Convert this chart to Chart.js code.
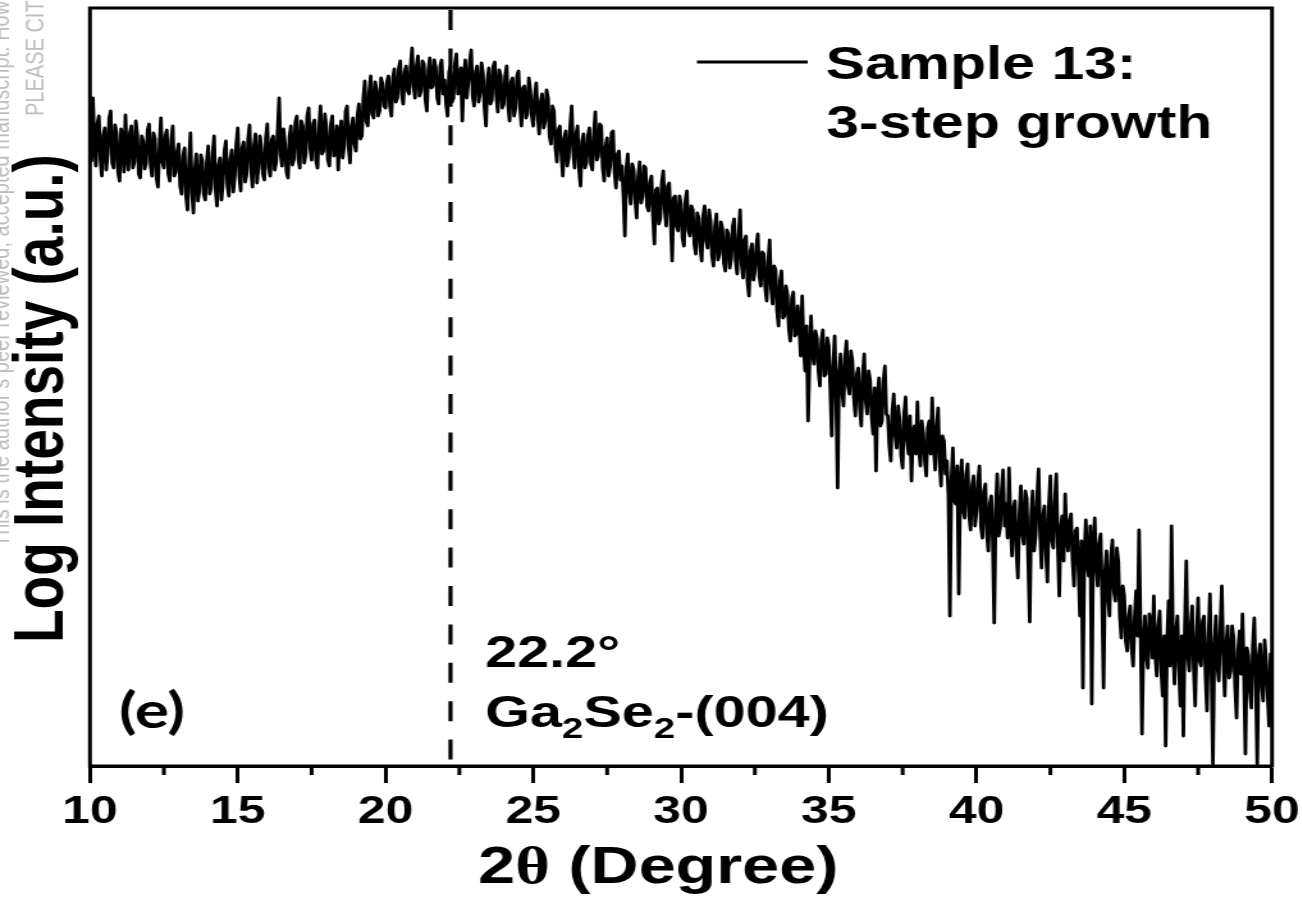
<!DOCTYPE html>
<html>
<head>
<meta charset="utf-8">
<script src="https://cdn.jsdelivr.net/npm/chart.js@4.4.0/dist/chart.umd.min.js"></script>
<style>
  html, body { margin: 0; padding: 0; background: #fff; overflow: hidden; }
  /* the source figure is stretched sideways, so draw narrow and stretch */
  #xrd { display: block; transform: scaleX(1.28); transform-origin: 0 0; }
</style>
</head>
<body>
<canvas id="xrd" width="1017" height="899"></canvas>
<script>
// 2-theta grid of the scan (degrees)
const startAngle = 10;
const stepAngle = 0.05;

// log intensity (arbitrary units), one row per degree
const intensity10to20 = [
  640, 605, 668, 622, 600, 642, 650, 607, 590, 631, 638, 596, 612, 648, 655, 603, 598, 641, 632, 594,
  585, 637, 628, 594, 651, 610, 596, 633, 640, 598, 604, 645, 632, 592, 588, 630, 625, 597, 603, 636,
  642, 601, 590, 633, 627, 588, 579, 620, 648, 604, 598, 630, 636, 592, 585, 626, 640, 590, 594, 615,
  622, 580, 572, 610, 618, 570, 556, 603, 633, 574, 553, 598, 612, 565, 575, 611, 605, 572, 566, 604,
  620, 572, 578, 612, 630, 575, 560, 601, 608, 566, 584, 615, 625, 580, 570, 607, 616, 574, 590, 622,
  638, 590, 575, 618, 624, 584, 592, 627, 641, 596, 579, 620, 632, 583, 598, 630, 618, 592, 586, 628,
  642, 598, 590, 626, 630, 596, 604, 635, 668, 612, 600, 637, 622, 594, 588, 629, 640, 601, 607, 644,
  650, 607, 598, 645, 640, 603, 612, 650, 658, 618, 606, 642, 646, 605, 598, 638, 660, 612, 615, 652,
  638, 606, 600, 642, 650, 610, 612, 640, 596, 630, 645, 608, 620, 655, 660, 618, 603, 640, 648, 622,
  615, 650, 662, 627, 630, 668, 685, 645, 640, 675, 690, 652, 648, 684, 676, 650, 655, 688, 682, 660
];
const intensity20to30 = [
  658, 684, 690, 660, 650, 688, 697, 664, 668, 698, 705, 672, 662, 694, 700, 675, 672, 700, 718, 680,
  668, 700, 710, 670, 675, 705, 702, 666, 655, 696, 708, 678, 680, 706, 698, 668, 662, 700, 706, 672,
  686, 662, 650, 694, 700, 664, 668, 702, 712, 672, 675, 698, 645, 690, 706, 668, 683, 704, 716, 670,
  660, 694, 700, 664, 672, 703, 692, 658, 640, 686, 698, 662, 666, 700, 704, 670, 654, 696, 690, 658,
  662, 690, 700, 660, 645, 684, 688, 650, 658, 690, 695, 660, 640, 678, 680, 648, 652, 688, 676, 650,
  640, 670, 683, 650, 632, 664, 672, 638, 645, 676, 668, 630, 622, 660, 655, 618, 604, 636, 640, 612,
  590, 628, 635, 600, 608, 640, 660, 615, 598, 632, 640, 596, 580, 625, 632, 598, 603, 630, 638, 602,
  596, 632, 654, 606, 610, 642, 640, 598, 585, 620, 628, 590, 600, 633, 635, 594, 578, 612, 615, 586,
  600, 572, 530, 598, 612, 574, 562, 602, 596, 566, 548, 590, 604, 563, 570, 600, 598, 560, 555, 584,
  590, 550, 522, 576, 578, 542, 548, 584, 595, 556, 540, 580, 583, 547, 505, 568, 570, 540, 535, 570
];
const intensity30to40 = [
  562, 528, 520, 566, 575, 535, 530, 560, 556, 522, 512, 553, 548, 519, 505, 550, 560, 525, 518, 556,
  545, 510, 500, 540, 552, 506, 512, 544, 538, 503, 495, 536, 532, 498, 508, 540, 547, 505, 492, 530,
  556, 502, 488, 526, 530, 484, 470, 515, 522, 486, 495, 520, 532, 490, 480, 514, 512, 478, 465, 505,
  526, 478, 462, 500, 496, 455, 440, 485, 495, 448, 450, 480, 472, 437, 425, 468, 474, 430, 432, 460,
  440, 410, 470, 420, 395, 440, 345, 405, 450, 412, 402, 435, 428, 395, 380, 425, 436, 390, 392, 428,
  420, 380, 330, 400, 430, 370, 278, 395, 412, 375, 360, 408, 425, 380, 372, 415, 405, 368, 350, 392,
  398, 358, 340, 392, 412, 365, 352, 395, 385, 350, 332, 378, 295, 370, 388, 340, 345, 385, 400, 352,
  350, 320, 305, 355, 372, 330, 318, 360, 345, 310, 298, 352, 369, 325, 312, 350, 285, 335, 340, 312,
  364, 318, 300, 345, 332, 305, 290, 338, 345, 312, 368, 320, 296, 340, 358, 305, 280, 330, 325, 292,
  305, 270, 150, 285, 318, 265, 262, 300, 172, 280, 306, 255, 248, 292, 302, 250, 236, 280, 290, 240
];
const intensity40to50 = [
  255, 285, 300, 240, 228, 275, 282, 232, 215, 262, 270, 225, 143, 255, 292, 230, 238, 276, 296, 240,
  262, 228, 298, 245, 210, 258, 265, 215, 188, 250, 280, 232, 222, 275, 268, 205, 144, 250, 275, 215,
  230, 268, 297, 235, 198, 250, 260, 212, 184, 262, 290, 225, 218, 265, 292, 222, 170, 238, 250, 205,
  272, 230, 215, 245, 252, 205, 180, 235, 238, 195, 150, 225, 78, 210, 246, 200, 190, 240, 62, 220,
  248, 200, 180, 222, 232, 170, 78, 195, 215, 168, 150, 210, 226, 175, 165, 218, 205, 150, 128, 180,
  170, 125, 115, 150, 160, 118, 100, 148, 175, 130, 236, 140, 32, 125, 150, 110, 98, 152, 140, 108,
  170, 110, 90, 140, 155, 95, 70, 130, 20, 125, 165, 100, 240, 120, 82, 135, 150, 98, 60, 130,
  30, 140, 205, 110, 95, 140, 160, 98, 60, 132, 168, 105, 100, 145, 150, 90, 55, 128, 172, 95,
  2, 120, 150, 100, 85, 138, 180, 112, 70, 122, 140, 88, 95, 140, 128, 80, 48, 115, 135, 92,
  152, 95, 12, 118, 110, 75, 58, 120, 148, 90, 2, 110, 122, 82, 65, 126, 105, 72, 40, 112,
  80
];

const minorTicks = [12.5, 17.5, 22.5, 27.5, 32.5, 37.5, 42.5, 47.5];
const peakAngle = 22.2;
const peakLabel = '22.2\u00B0';
const sampleName = ['Sample 13:', '3-step growth'];

const FONT = "'Liberation Sans', Arial, sans-serif";

const intensity = [].concat(intensity10to20, intensity20to30, intensity30to40, intensity40to50);
const points = intensity.map((v, i) => ({ x: +(startAngle + i * stepAngle).toFixed(2), y: v }));

// draw a row of text pieces with different fonts / offsets, left aligned
function drawRuns(ctx, runs, x, y) {
  ctx.textAlign = 'left';
  ctx.textBaseline = 'alphabetic';
  runs.forEach(r => {
    ctx.font = r.font;
    ctx.fillText(r.text, x, y + (r.dy || 0));
    x += ctx.measureText(r.text).width;
  });
}

const decor = {
  id: 'decor',
  afterDraw(chart) {
    const { ctx, chartArea: a, scales: { x } } = chart;
    ctx.save();
    ctx.strokeStyle = '#000';
    ctx.fillStyle = '#000';

    // frame
    ctx.lineWidth = 3;
    ctx.strokeRect(a.left, a.top, a.right - a.left, a.bottom - a.top);

    // minor ticks
    ctx.beginPath();
    minorTicks.forEach(v => {
      const px = x.getPixelForValue(v);
      ctx.moveTo(px, a.bottom);
      ctx.lineTo(px, a.bottom + 9);
    });
    ctx.stroke();

    // peak position
    const px = x.getPixelForValue(peakAngle);
    ctx.lineWidth = 3.2;
    ctx.setLineDash([20, 18.4]);
    ctx.beginPath();
    ctx.moveTo(px, a.top + 2);
    ctx.lineTo(px, a.bottom);
    ctx.stroke();
    ctx.setLineDash([]);

    // legend
    ctx.lineWidth = 3;
    ctx.beginPath();
    ctx.moveTo(544.5, 62);
    ctx.lineTo(631, 62);
    ctx.stroke();
    drawRuns(ctx, [{ text: sampleName[0], font: `bold 46px ${FONT}` }], 645, 79);
    drawRuns(ctx, [{ text: sampleName[1], font: `bold 46px ${FONT}` }], 645.5, 138);

    // peak annotation
    drawRuns(ctx, [{ text: peakLabel, font: `bold 45px ${FONT}` }], 379, 667);
    const big = `bold 45px ${FONT}`, sub = `bold 30px ${FONT}`;
    drawRuns(ctx, [
      { text: 'Ga', font: big }, { text: '2', font: sub, dy: 11 },
      { text: 'Se', font: big }, { text: '2', font: sub, dy: 11 },
      { text: '-(004)', font: big }
    ], 379, 727);

    // panel letter
    drawRuns(ctx, [{ text: '(e)', font: "bold 50px Lato, 'Open Sans', sans-serif" }], 93, 728);

    // axis titles
    drawRuns(ctx, [
      { text: '2', font: `bold 52px ${FONT}` },
      { text: '\u03B8', font: "bold 52px 'Liberation Serif', serif" },
      { text: ' (Degree)', font: `bold 52px ${FONT}` }
    ], 373.5, 883);

    ctx.save();
    ctx.translate(49, 643);
    ctx.rotate(-Math.PI / 2);
    drawRuns(ctx, [{ text: 'Log Intensity (a.u.)', font: `bold 55px ${FONT}` }], 0, 0);
    ctx.restore();

    // journal watermark at the left edge
    ctx.fillStyle = '#bdbdbd';
    ctx.save();
    ctx.translate(7, 547);
    ctx.rotate(-Math.PI / 2);
    drawRuns(ctx, [{ text: "This is the author\u2019s peer reviewed, accepted manuscript. However, the online version of record will be different", font: `20px ${FONT}` }], 0, 0);
    ctx.restore();
    ctx.save();
    ctx.translate(33.5, 116);
    ctx.rotate(-Math.PI / 2);
    drawRuns(ctx, [{ text: 'PLEASE CITE THIS ARTICLE AS DOI', font: `20px ${FONT}` }], 0, 0);
    ctx.restore();

    ctx.restore();
  }
};

new Chart(document.getElementById('xrd'), {
  type: 'line',
  data: {
    datasets: [{
      label: sampleName.join(' '),
      data: points,
      borderColor: '#000',
      borderWidth: 2.8,
      borderJoinStyle: 'round',
      pointRadius: 0,
      tension: 0,
      fill: false
    }]
  },
  options: {
    responsive: false,
    devicePixelRatio: 1,
    animation: false,
    layout: { padding: { left: 70.3, right: 23.25, top: 8, bottom: 0 } },
    plugins: {
      legend: { display: false },
      tooltip: { enabled: false }
    },
    scales: {
      x: {
        type: 'linear',
        min: 10,
        max: 50,
        afterFit: (scale) => {
          scale.height = 133;
          // keep the frame where the figure has it, labels may overhang
          scale.paddingLeft = 0;
          scale.paddingRight = 0;
        },
        ticks: {
          stepSize: 5,
          color: '#000',
          padding: 6,
          font: { family: FONT, size: 39, weight: 'bold' }
        },
        grid: {
          drawOnChartArea: false,
          drawTicks: true,
          tickLength: 17,
          tickWidth: 3,
          tickColor: '#000'
        },
        border: { display: true, color: '#000', width: 3 }
      },
      y: {
        display: false,
        min: 0,
        max: 758
      }
    }
  },
  plugins: [decor]
});
</script>
</body>
</html>
